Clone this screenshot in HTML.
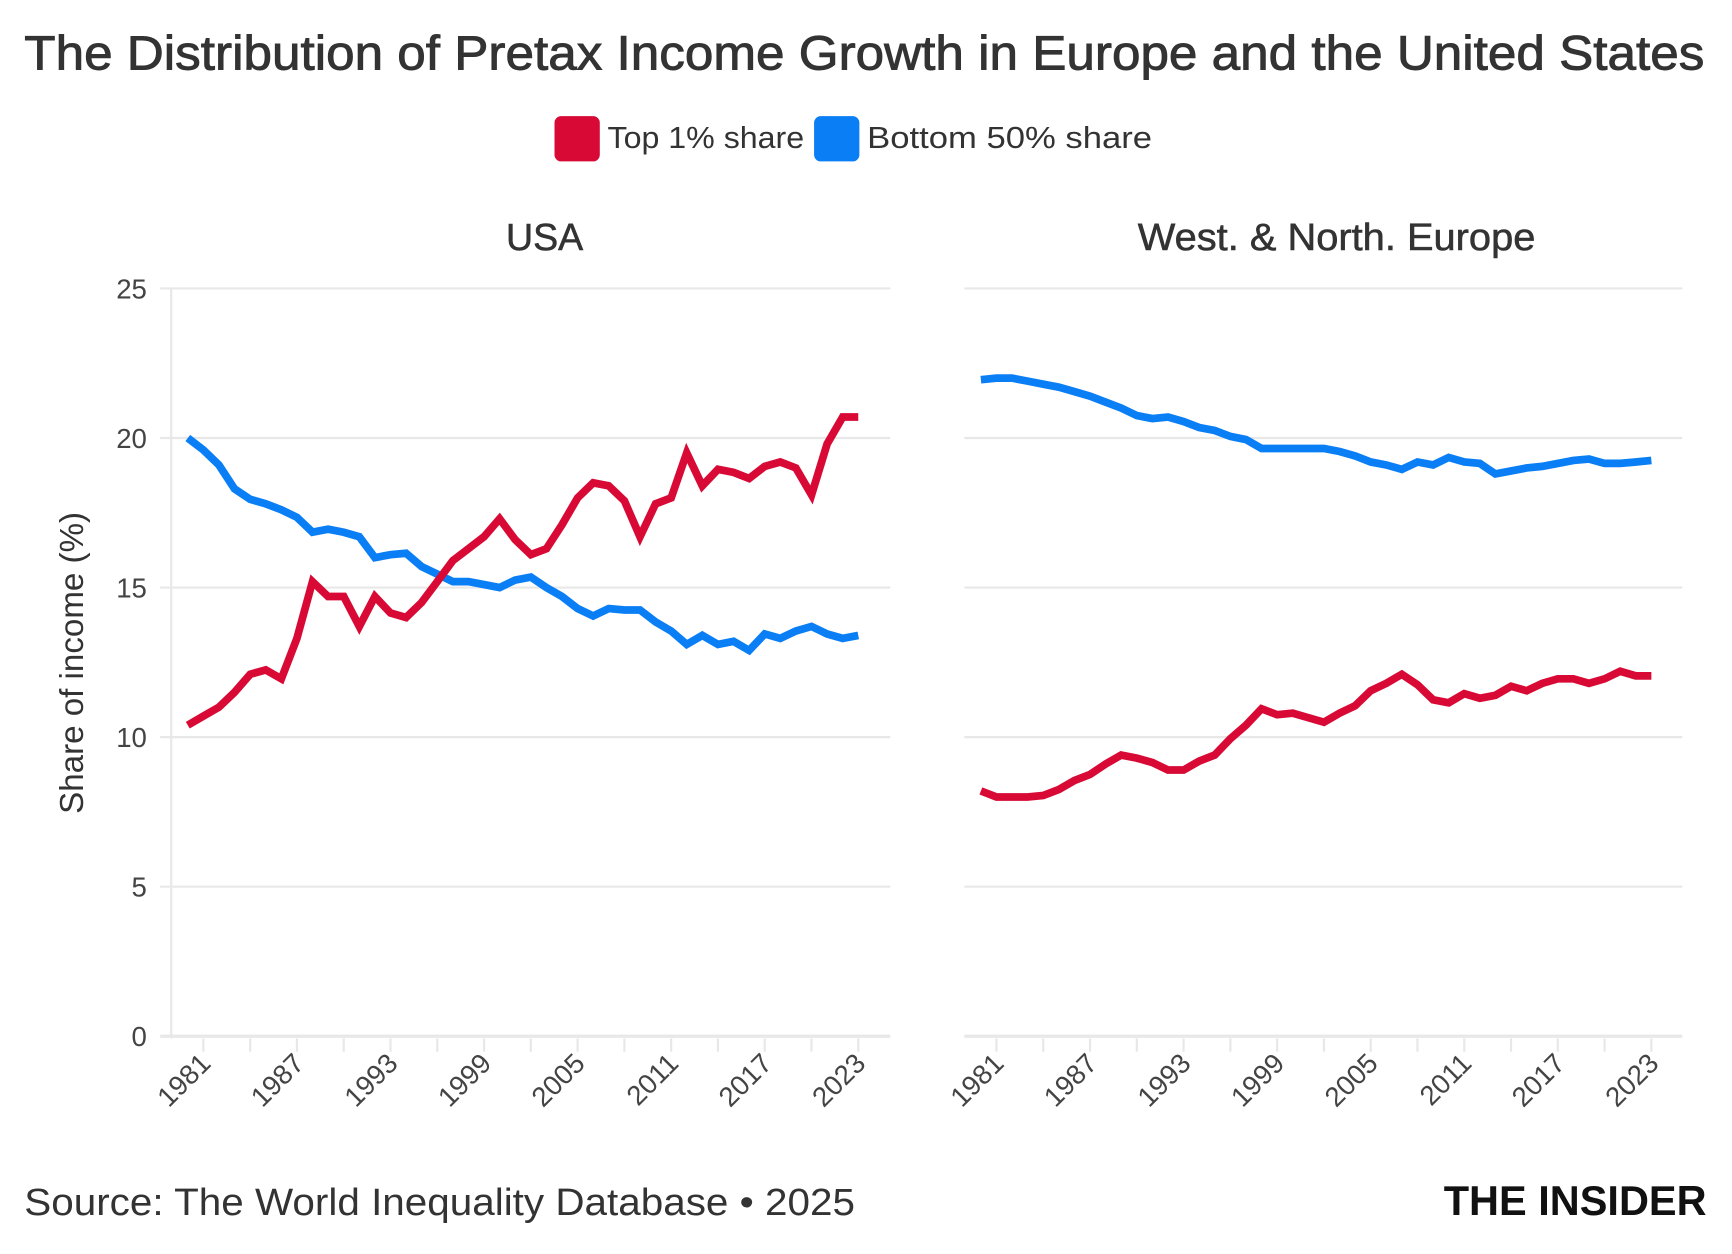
<!DOCTYPE html>
<html><head><meta charset="utf-8">
<style>
html,body{margin:0;padding:0;background:#fff;}
svg{display:block;font-family:"Liberation Sans",sans-serif;}
</style></head>
<body>
<svg id="c" width="1732" height="1254" viewBox="0 0 1568 1135" xmlns="http://www.w3.org/2000/svg">
<rect width="1568" height="1135" fill="#fff"/>
<text x="22" y="63" font-size="44" fill="#333" stroke="#333" stroke-width="0.8" textLength="1521" lengthAdjust="spacingAndGlyphs">The Distribution of Pretax Income Growth in Europe and the United States</text>
<rect x="502" y="105" width="41" height="41" rx="6" fill="#d80a35"/>
<text x="550" y="134" font-size="28" fill="#333" textLength="178" lengthAdjust="spacingAndGlyphs">Top 1% share</text>
<rect x="737" y="105" width="41" height="41" rx="6" fill="#0a7ef5"/>
<text x="785" y="134" font-size="28" fill="#333" textLength="258" lengthAdjust="spacingAndGlyphs">Bottom 50% share</text>
<text x="493" y="226" font-size="34" fill="#333" stroke="#333" stroke-width="0.5" text-anchor="middle">USA</text>
<text x="1210" y="226" font-size="34" fill="#333" stroke="#333" stroke-width="0.5" text-anchor="middle" textLength="360" lengthAdjust="spacingAndGlyphs">West. &amp; North. Europe</text>
<text transform="translate(75,600) rotate(-90)" font-size="30" fill="#333" text-anchor="middle">Share of income (%)</text>
<text x="22" y="1100" font-size="34" fill="#333" textLength="752" lengthAdjust="spacingAndGlyphs">Source: The World Inequality Database • 2025</text>
<text x="1545" y="1100" font-size="38" font-weight="bold" fill="#111" text-anchor="end" textLength="238" lengthAdjust="spacingAndGlyphs">THE INSIDER</text>
<g id="g"></g>
</svg>
<script>
var usT=[10.4,10.7,11.0,11.5,12.1,12.25,11.95,13.3,15.2,14.7,14.7,13.7,14.7,14.15,14.0,14.5,15.2,15.9,16.3,16.7,17.3,16.6,16.1,16.3,17.1,18.0,18.5,18.4,17.9,16.7,17.8,18.0,19.5,18.4,18.95,18.85,18.65,19.05,19.2,19.0,18.1,19.8,20.7,20.7];
var usB=[20.0,19.6,19.1,18.3,17.95,17.8,17.6,17.35,16.85,16.95,16.85,16.7,16.0,16.1,16.15,15.7,15.45,15.2,15.2,15.1,15.0,15.25,15.35,15.0,14.7,14.3,14.05,14.3,14.25,14.25,13.85,13.55,13.1,13.4,13.1,13.2,12.9,13.45,13.3,13.55,13.7,13.45,13.3,13.4];
var euB=[21.95,22.0,22.0,21.9,21.8,21.7,21.55,21.4,21.2,21.0,20.75,20.65,20.7,20.55,20.35,20.25,20.05,19.95,19.65,19.65,19.65,19.65,19.65,19.55,19.4,19.2,19.1,18.95,19.2,19.1,19.35,19.2,19.15,18.8,18.9,19.0,19.05,19.15,19.25,19.3,19.15,19.15,19.2,19.25];
var euT=[8.2,8.0,8.0,8.0,8.05,8.25,8.55,8.75,9.1,9.4,9.3,9.15,8.9,8.9,9.2,9.4,9.95,10.4,10.95,10.75,10.8,10.65,10.5,10.8,11.05,11.55,11.8,12.1,11.75,11.25,11.15,11.45,11.3,11.4,11.7,11.55,11.8,11.95,11.95,11.8,11.95,12.2,12.05,12.05];
var g=document.getElementById('g'),h='';
function Y(v){return 938-v*27.08;}
var panels=[{x0:170,gl:145,gr:806,T:usT,B:usB,axis:true},{x0:888,gl:873,gr:1523,T:euT,B:euB,axis:false}];
var step=(777-170)/43;
panels.forEach(function(p){
 for(var v=0;v<=25;v+=5){
  h+='<line x1="'+p.gl+'" x2="'+p.gr+'" y1="'+Y(v)+'" y2="'+Y(v)+'" stroke="#e8e8e8" stroke-width="'+(v==0?3:2)+'"/>';
  if(p.axis) h+='<text x="133" y="'+(Y(v)+9)+'" font-size="25" fill="#444" text-anchor="end">'+v+'</text>';
 }
 if(p.axis) h+='<line x1="155" x2="155" y1="261" y2="940" stroke="#e8e8e8" stroke-width="2"/>';
 for(var yr=1981;yr<=2023;yr+=3){
  var x=p.x0+(yr-1980)*step;
  h+='<line x1="'+x+'" x2="'+x+'" y1="940" y2="952" stroke="#e8e8e8" stroke-width="2"/>';
 }
 for(var yr=1981;yr<=2023;yr+=6){
  var x=p.x0+(yr-1980)*step+8;
  h+='<text transform="translate('+x+',964) rotate(-45)" font-size="25" fill="#444" text-anchor="end">'+yr+'</text>';
 }
 [[p.B,'#0a7ef5'],[p.T,'#d80a35']].forEach(function(s){
  var d='';s[0].forEach(function(v,i){d+=(i?'L':'M')+(p.x0+i*step).toFixed(1)+','+Y(v).toFixed(1);});
  h+='<path d="'+d+'" fill="none" stroke="'+s[1]+'" stroke-width="7" stroke-linejoin="miter" stroke-miterlimit="3"/>';
 });
});
g.innerHTML=h;
</script>
</body></html>
